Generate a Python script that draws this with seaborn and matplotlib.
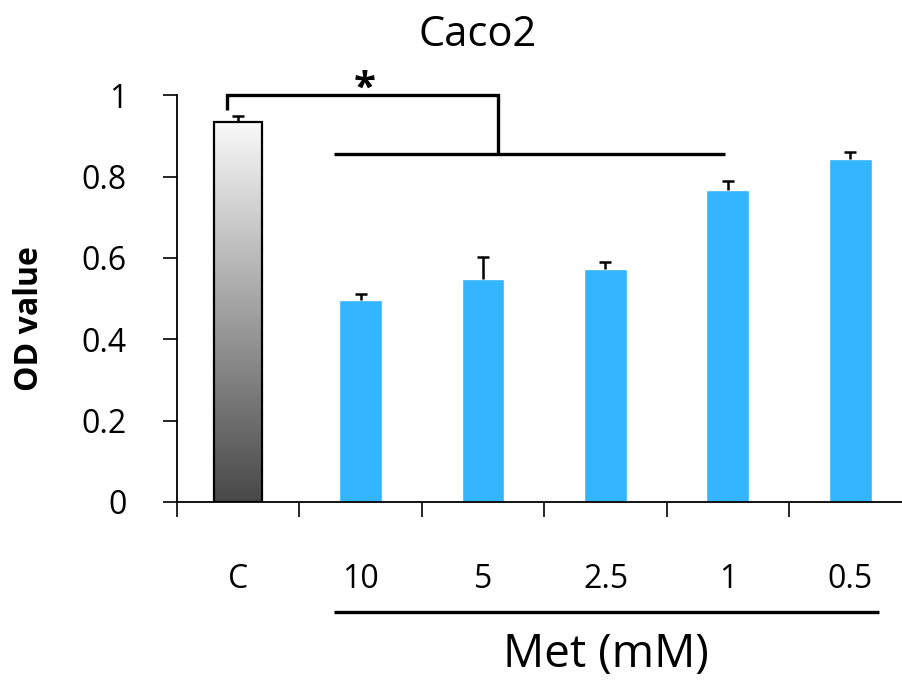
import numpy as np
import matplotlib.pyplot as plt
import seaborn as sns
from matplotlib.colors import LinearSegmentedColormap

# values
groups = ["C", "10", "5", "2.5", "1", "0.5"]
od_mean = [0.934, 0.496, 0.549, 0.572, 0.767, 0.842]
od_err = [0.014, 0.015, 0.052, 0.017, 0.022, 0.019]
y_ticks = [0, 0.2, 0.4, 0.6, 0.8, 1]

blue = "#33B5FF"

sns.set_style("ticks")
plt.rcParams["font.family"] = ["Open Sans", "DejaVu Sans"]
plt.rcParams["text.color"] = "black"
plt.rcParams["xtick.color"] = "black"
plt.rcParams["ytick.color"] = "black"
plt.rcParams["axes.labelcolor"] = "black"

fig = plt.figure(figsize=(9.03, 6.8), dpi=100)
ax = fig.add_axes([0.196, 0.262, 0.804, 0.598])

sns.barplot(
    x=groups,
    y=od_mean,
    hue=groups,
    palette=["#ffffff"] + [blue] * 5,
    width=0.35,
    saturation=1,
    legend=False,
    ax=ax,
)

# control bar: wider, black edge, grey gradient
c_bar = ax.patches[0]
xc = c_bar.get_x() + c_bar.get_width() / 2
c_bar.set_width(0.39)
c_bar.set_x(xc - 0.195)
grad_cmap = LinearSegmentedColormap.from_list("grey_grad", ["#484848", "#f9f9f9"])
grad = np.linspace(0, 1, 256).reshape(-1, 1)
im = ax.imshow(
    grad,
    cmap=grad_cmap,
    origin="lower",
    aspect="auto",
    extent=[c_bar.get_x(), c_bar.get_x() + c_bar.get_width(),
            c_bar.get_y(), c_bar.get_y() + c_bar.get_height()],
    zorder=2,
)
im.set_clip_path(c_bar)
c_bar.set_facecolor("none")
c_bar.set_edgecolor("black")
c_bar.set_linewidth(1.6)
c_bar.set_zorder(3)

# upper error bars only
xpos = np.arange(len(groups))
eb = ax.errorbar(
    xpos, od_mean,
    yerr=[np.zeros(len(od_err)), od_err],
    fmt="none", ecolor="black", elinewidth=1.8,
    capsize=4.5, capthick=1.8, zorder=1,
)
eb[1][0].set_visible(False)  # hide lower caps

ax.set_xlim(-0.5, 5.43)
ax.set_ylim(0, 1)
ax.set_yticks(y_ticks)
ax.set_yticklabels([f"{v:g}" for v in y_ticks])
ax.set_xticks(np.arange(-0.5, 5, 1), minor=True)

ax.tick_params(axis="y", direction="out", length=10, width=1.2, labelsize=23, pad=26)
ax.tick_params(axis="x", which="major", length=0, labelsize=23, pad=44)
ax.tick_params(axis="x", which="minor", direction="out", length=11, width=1.2)

sns.despine(ax=ax)
for s in ["left", "bottom"]:
    ax.spines[s].set_linewidth(1.3)
    ax.spines[s].set_color("black")

ax.set_ylabel("OD value", fontsize=23, fontweight="bold")
ax.yaxis.set_label_coords(-0.18, 0.45)

# significance bracket
lk = dict(color="black", lw=2.4, clip_on=False, solid_joinstyle="miter", solid_capstyle="butt")
ax.plot([-0.09, -0.09, 2.12, 2.12], [0.963, 1.0, 1.0, 0.855], **lk)
ax.plot([0.78, 3.98], [0.855, 0.855], **lk)
ax.text(1.03, 0.99, "*", fontsize=29, fontweight="bold", ha="center", va="baseline")

# Met group line and label
ax.plot([0.78, 5.23], [-0.27, -0.27], **lk)
ax.text(3.0, -0.376, "Met (mM)", fontsize=33, ha="center", va="center", clip_on=False)

fig.text(478 / 903, 1 - 35 / 680, "Caco2", fontsize=30, ha="center", va="center")

fig.savefig("out.png", dpi=100)
